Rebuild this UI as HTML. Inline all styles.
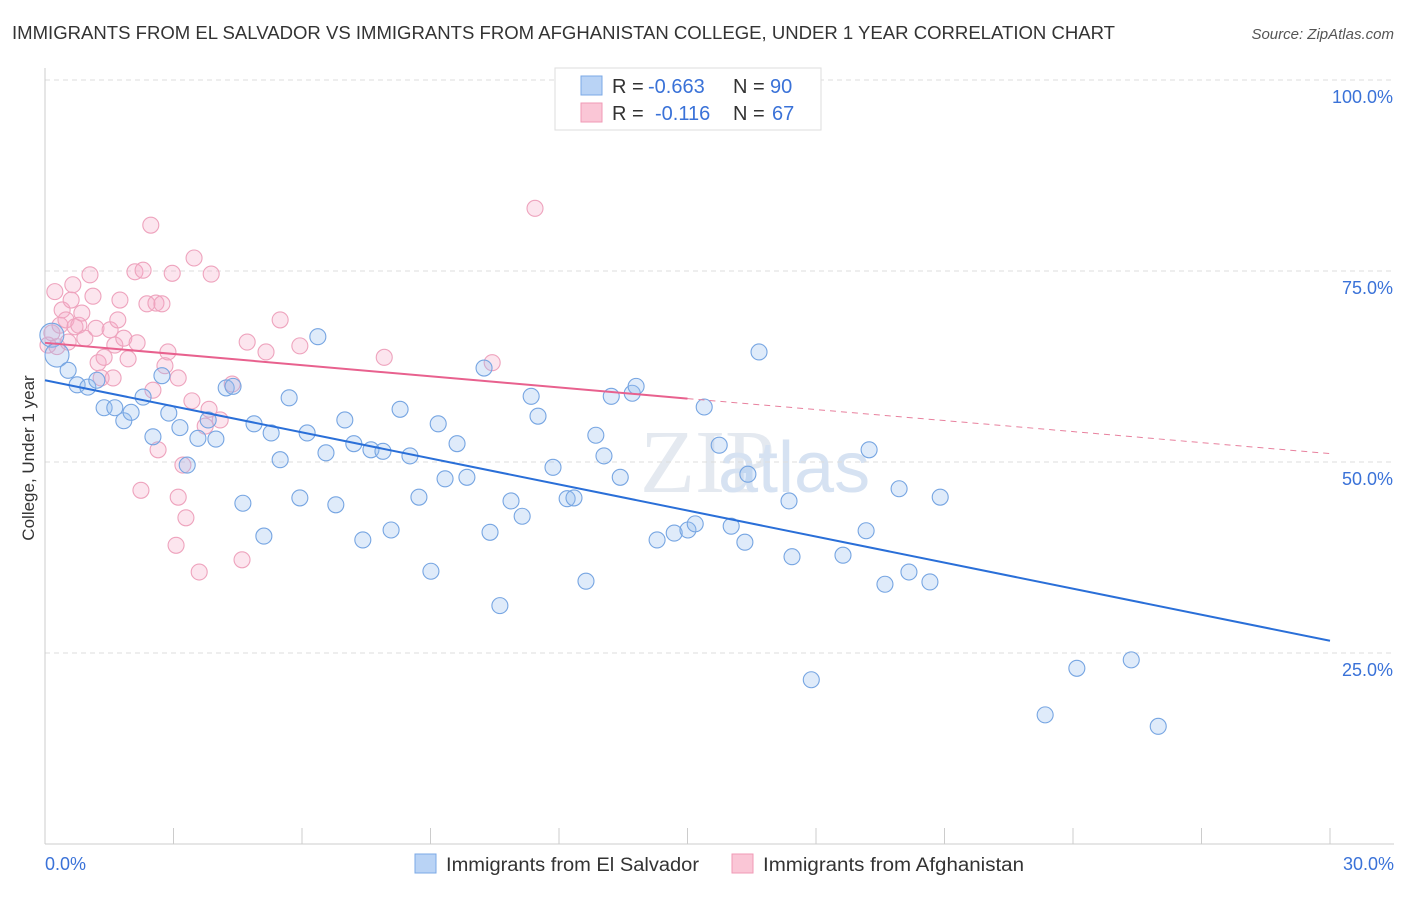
<!DOCTYPE html>
<html><head><meta charset="utf-8"><style>
body{margin:0;background:#fff;font-family:"Liberation Sans",sans-serif;}
</style></head><body>
<svg id="chart" width="1406" height="892" xmlns="http://www.w3.org/2000/svg">
<text x="12" y="39" font-size="18" fill="#333" textLength="1103" lengthAdjust="spacingAndGlyphs">IMMIGRANTS FROM EL SALVADOR VS IMMIGRANTS FROM AFGHANISTAN COLLEGE, UNDER 1 YEAR CORRELATION CHART</text>
<text x="1394" y="39" font-size="15" fill="#555" text-anchor="end" font-style="italic">Source: ZipAtlas.com</text>
<text x="640" y="492" font-size="90" fill="#e4e9f0" font-family="Liberation Serif, serif">ZIP</text>
<text x="718" y="492" font-size="72" fill="#d6e2f2">atlas</text>
<g id="grid"></g>
<g id="axes"></g>
<g id="marks"></g>
<text transform="translate(34,458) rotate(-90)" font-size="17" fill="#333" text-anchor="middle">College, Under 1 year</text>
<g>
<rect x="555" y="68" width="266" height="62" fill="#fff" stroke="#ddd"/>
<rect x="581" y="76" width="21" height="19" fill="#b9d3f5" stroke="#7ba8e6"/>
<rect x="581" y="103" width="21" height="19" fill="#fac6d6" stroke="#f09ab6"/>
<text x="612" y="93" font-size="20" fill="#333">R = <tspan fill="#3a72d8" x="648">-0.663</tspan></text>
<text x="733" y="93" font-size="20" fill="#333">N = <tspan fill="#3a72d8" x="770">90</tspan></text>
<text x="612" y="120" font-size="20" fill="#333">R = <tspan fill="#3a72d8" x="655">-0.116</tspan></text>
<text x="733" y="120" font-size="20" fill="#333">N = <tspan fill="#3a72d8" x="772">67</tspan></text>
</g>
<g>
<rect x="415" y="854" width="21" height="19" fill="#b9d3f5" stroke="#7ba8e6"/>
<text x="446" y="871" font-size="19" fill="#333" textLength="253" lengthAdjust="spacingAndGlyphs">Immigrants from El Salvador</text>
<rect x="732" y="854" width="21" height="19" fill="#fac6d6" stroke="#f09ab6"/>
<text x="763" y="871" font-size="19" fill="#333" textLength="261" lengthAdjust="spacingAndGlyphs">Immigrants from Afghanistan</text>
</g>
</svg>
<script>
const blueX=[0.16,0.28,0.54,0.75,1.00,1.21,1.38,1.63,1.84,2.01,2.29,2.52,2.73,2.89,3.15,3.32,3.57,3.81,3.99,4.23,4.39,4.62,4.88,5.11,5.28,5.49,5.70,5.95,6.12,6.37,6.56,6.79,7.00,7.21,7.42,7.61,7.89,8.08,8.29,8.52,8.73,9.01,9.18,9.34,9.62,9.85,10.25,10.39,10.62,10.88,11.14,11.35,11.51,11.86,12.19,12.35,12.63,12.86,13.05,13.22,13.43,13.71,13.80,14.29,14.69,15.01,15.18,15.39,15.74,16.02,16.34,16.41,16.67,17.37,17.44,17.89,18.63,19.17,19.24,19.61,19.94,20.17,20.66,20.90,23.35,24.09,25.36,25.99];
const blueY=[66.6,64.0,62.0,60.1,59.8,60.7,57.1,57.1,55.4,56.5,58.5,53.3,61.3,56.4,54.5,49.6,53.1,55.5,53.0,59.7,59.9,44.6,55.0,40.3,53.8,50.3,58.4,45.3,53.8,66.4,51.2,44.4,55.5,52.4,39.8,51.6,51.4,41.1,56.9,50.8,45.4,35.7,55.0,47.8,52.4,48.0,62.3,40.8,31.2,44.9,42.9,58.6,56.0,49.3,45.2,45.3,34.4,53.5,50.8,58.6,48.0,59.0,59.9,39.8,40.7,41.1,41.9,57.2,52.2,41.6,39.5,48.4,64.4,44.9,37.6,21.5,37.8,41.0,51.6,34.0,46.5,35.6,34.3,45.4,16.9,23.0,24.1,15.4];
const pinkX=[0.07,0.16,0.23,0.28,0.35,0.40,0.49,0.54,0.61,0.65,0.70,0.79,0.86,0.93,1.05,1.12,1.19,1.24,1.31,1.38,1.52,1.59,1.63,1.70,1.75,1.84,1.94,2.10,2.15,2.24,2.29,2.38,2.47,2.52,2.59,2.64,2.73,2.80,2.87,2.97,3.06,3.11,3.11,3.22,3.29,3.43,3.48,3.60,3.74,3.83,3.88,4.09,4.37,4.60,4.72,5.16,5.49,5.95,7.92,10.44,11.44];
const pinkY=[65.3,66.9,72.3,65.1,67.9,69.9,68.6,65.7,71.2,73.2,67.7,67.9,69.5,66.2,74.5,71.7,67.5,63.0,61.0,63.7,67.3,61.0,65.3,68.6,71.2,66.2,63.5,74.9,65.6,46.3,75.1,70.7,81.0,59.4,70.8,51.6,70.7,62.6,64.4,74.7,39.1,45.4,61.0,49.6,42.7,58.0,76.7,35.6,54.7,56.9,74.6,55.5,60.2,37.2,65.7,64.4,68.6,65.2,63.7,63.0,83.2];
const yTicks=[100,75,50,25];
const yTickLabels=["100.0%","75.0%","50.0%","25.0%"];
const blueTrend=[[0,60.7],[30,26.6]];
const pinkTrend=[[0,65.6],[15,58.3],[30,51.1]];
const NS="http://www.w3.org/2000/svg";
const X=v=>45+v/30*1285, Y=v=>844-v*7.64;
function mk(tag,attrs,parent){const e=document.createElementNS(NS,tag);for(const k in attrs)e.setAttribute(k,attrs[k]);document.getElementById(parent).appendChild(e);return e;}
yTicks.forEach((t,i)=>{
 const l=mk('line',{x1:45,x2:1394,y1:Y(t),y2:Y(t),stroke:'#ddd','stroke-dasharray':'5,4'},'grid');
 
 
 const tx=mk('text',{x:1393,y:Y(t)+23,'font-size':18,fill:'#3a72d8','text-anchor':'end'},'grid');
 tx.textContent=yTickLabels[i];
 
 
});
mk('line',{x1:45,x2:45,y1:68,y2:844,stroke:'#ccc'},'axes');
mk('line',{x1:45,x2:1394,y1:844,y2:844,stroke:'#ccc'},'axes');
for(let i=0;i<=10;i++){const t=mk('line',{x1:X(i*3),x2:X(i*3),y1:828,y2:844,stroke:'#ccc'},'axes');}
let a=mk('text',{x:45,y:870,'font-size':18,fill:'#3a72d8'},'axes');a.textContent='0.0%';


a=mk('text',{x:1394,y:870,'font-size':18,fill:'#3a72d8','text-anchor':'end'},'axes');a.textContent='30.0%';


pinkX.forEach((x,i)=>{const c=mk('circle',{cx:X(x),cy:Y(pinkY[i]),r:8,fill:'rgba(245,170,200,0.3)',stroke:'#eea3bd','stroke-width':1.1},'marks');
 
 });
blueX.forEach((x,i)=>{const c=mk('circle',{cx:X(x),cy:Y(blueY[i]),r:i<2?12:8,fill:'rgba(150,190,240,0.3)',stroke:'#76a5e2','stroke-width':1.1},'marks');
 
 });
let tl=mk('line',{x1:X(blueTrend[0][0]),y1:Y(blueTrend[0][1]),x2:X(blueTrend[1][0]),y2:Y(blueTrend[1][1]),stroke:'#2a6fd8','stroke-width':2},'marks');


tl=mk('line',{x1:X(pinkTrend[0][0]),y1:Y(pinkTrend[0][1]),x2:X(pinkTrend[1][0]),y2:Y(pinkTrend[1][1]),stroke:'#e8618e','stroke-width':2},'marks');


tl=mk('line',{x1:X(pinkTrend[1][0]),y1:Y(pinkTrend[1][1]),x2:X(pinkTrend[2][0]),y2:Y(pinkTrend[2][1]),stroke:'#e8819e','stroke-width':1,'stroke-dasharray':'6,5'},'marks');


</script>
</body></html>
